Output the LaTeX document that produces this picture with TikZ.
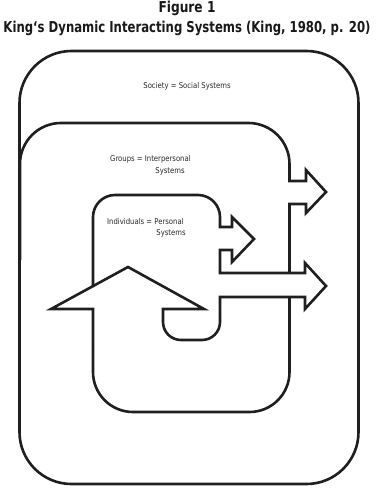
\documentclass[tikz,border=0pt]{standalone}
\usepackage{fontspec}
\setmainfont{DejaVu Sans}
\usepackage{graphicx}
\newcommand{\narrowtext}[1]{\scalebox{0.86}[1]{#1}}
\begin{document}
\begin{tikzpicture}[x=1pt,y=-1pt,
  box/.style={draw=black!88, line width=2.6pt, line join=miter},
  lbl/.style={font=\fontsize{8}{9}\selectfont, inner sep=0pt, text=black!85},
  ttl/.style={font=\bfseries\fontsize{15}{16}\selectfont, inner sep=0pt, text=black!90}]
\useasboundingbox (0,0) rectangle (377,495);
% titles
\node[ttl, anchor=base] (fig) at (187,13) {\resizebox{57pt}{\height}{Figure 1}};
\node[ttl, anchor=base] (title) at (187,33) {\resizebox{367pt}{\height}{King`s Dynamic Interacting Systems (King, 1980, p. 20)}};
% society
\draw[box, rounded corners=52] (19.5,51) rectangle (358.5,484);
% groups
\draw[box, rounded corners=41] (20,260) -- (20,123) -- (289.5,123) -- (289.5,176);
\draw[box] (289.5,176) -- (289.5,181) -- (306,181) -- (306,170) -- (326,192) -- (306,213) -- (306,204) -- (289.5,204) -- (289.5,273);
% individuals and the arrows
\draw[box, rounded corners=22] (93,287) -- (93,195) -- (220,195) -- (220,222);
\draw[box] (220,222) -- (220,227) -- (232,227) -- (232,217) -- (254,239) -- (232,262) -- (232,250) -- (220,250) -- (220,273) -- (305,273) -- (305,263) -- (326,286) -- (305,309) -- (305,297) -- (220,297) -- (220,318);
\draw[box, rounded corners=18] (220,318) -- (220,340) -- (163,340) -- (163,320);
\draw[box] (163,320) -- (163,309) -- (204,309) -- (128,267) -- (51,309) -- (93,309) -- (93,350);
\draw[box, rounded corners=40] (93,350) -- (93,412) -- (289.5,412) -- (289.5,297);
% labels
\node[lbl] (soc) at (187,86) {\narrowtext{Society = Social Systems}};
\node[lbl, anchor=west] (grp) at (110,159) {\narrowtext{Groups = Interpersonal}};
\node[lbl] (grp2) at (170,171) {\narrowtext{Systems}};
\node[lbl, anchor=west] (ind) at (107,222) {\narrowtext{Individuals = Personal}};
\node[lbl] (ind2) at (171,233) {\narrowtext{Systems}};
\end{tikzpicture}
\end{document}
